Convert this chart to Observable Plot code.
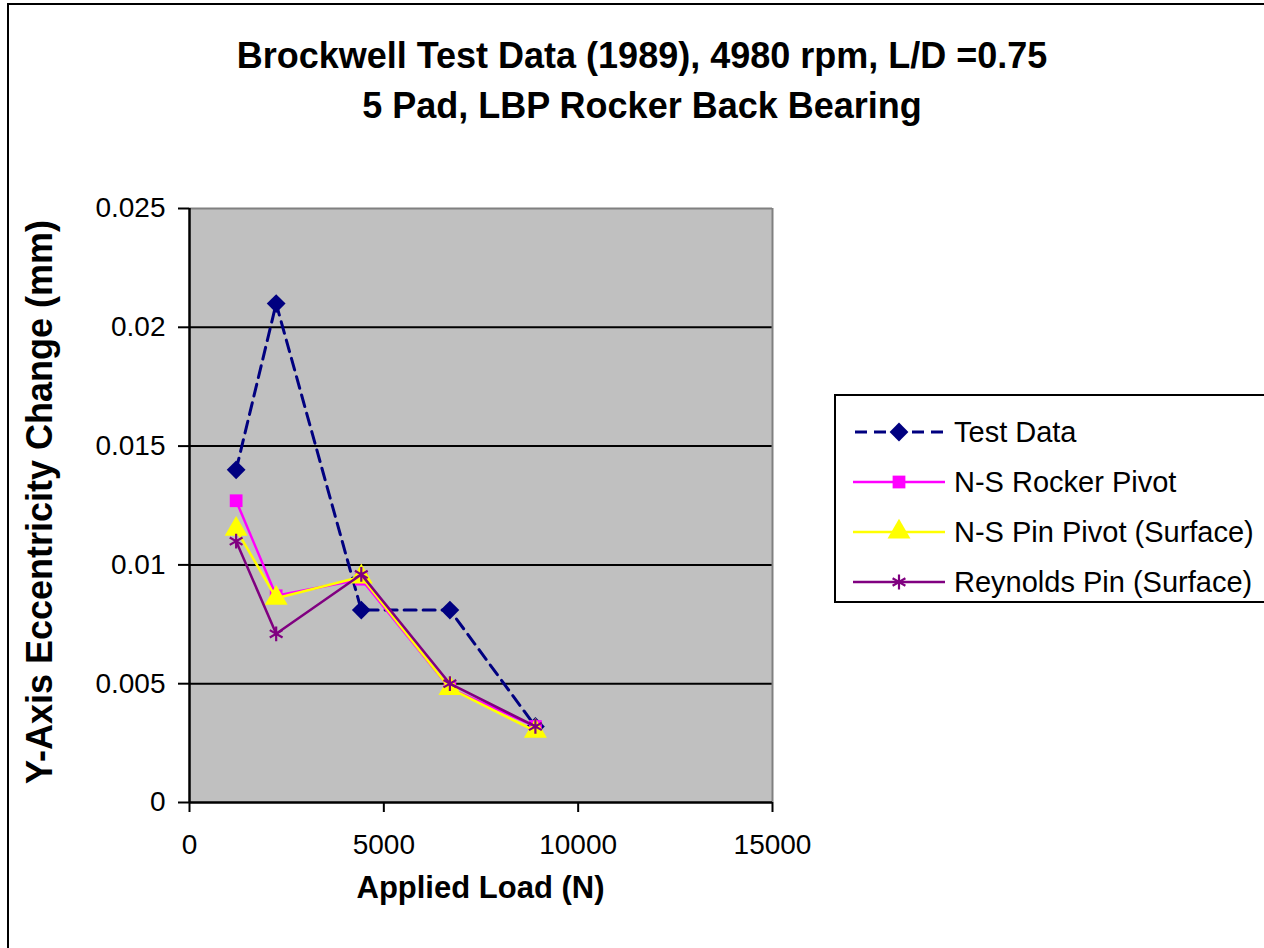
<!DOCTYPE html>
<html>
<head>
<meta charset="utf-8">
<script src="https://cdn.jsdelivr.net/npm/d3@7"></script>
<script src="https://cdn.jsdelivr.net/npm/@observablehq/plot@0.6"></script>
<style>
  html, body { margin: 0; padding: 0; background: #fff; }
  #wrap { position: relative; width: 1264px; height: 948px; overflow: hidden; font-family: "Liberation Sans", Arial, sans-serif; color: #000; }
  #border { position: absolute; left: 7px; top: 3px; width: 1400px; height: 1100px; border-top: 2.5px solid #000; border-left: 2.5px solid #000; }
  #chart { position: absolute; left: 0; top: 0; }
  .title { position: absolute; left: 0; width: 1284px; text-align: center; font-weight: bold; font-size: 36px; line-height: 1; white-space: nowrap; }
  .axtitle { position: absolute; font-weight: bold; line-height: 1; white-space: nowrap; }
  #legend { position: absolute; left: 834px; top: 394px; width: 600px; height: 209px; border: 2px solid #000; background: #fff; box-sizing: border-box; }
  .lrow { position: absolute; left: 16px; height: 40px; display: flex; align-items: center; font-size: 29px; white-space: nowrap; }
  .lrow svg { margin-right: 8px; }
</style>
</head>
<body>
<div id="wrap">
  <div id="border"></div>
  <div id="chart"></div>
  <div class="title" style="top:38px">Brockwell Test Data (1989), 4980 rpm, L/D =0.75</div>
  <div class="title" style="top:88px">5 Pad, LBP Rocker Back Bearing</div>
  <div class="axtitle" id="xtitle"></div>
  <div class="axtitle" id="ytitle"></div>
  <div id="legend"></div>
</div>
<script>
// ---- data ----
const loads = [1200, 2230, 4420, 6700, 8900];
const testData = [0.014, 0.021, 0.0081, 0.0081, 0.0032];
const rockerPivot = [0.0127, 0.0087, 0.0094, 0.0048, 0.0032];
const pinPivot = [0.0115, 0.0086, 0.0095, 0.0048, 0.0030];
const reynoldsPin = [0.011, 0.0071, 0.0096, 0.0050, 0.0032];
const seriesNames = ["Test Data", "N-S Rocker Pivot", "N-S Pin Pivot (Surface)", "Reynolds Pin (Surface)"];
const xTicks = [0, 5000, 10000, 15000];
const yTicks = [0, 0.005, 0.01, 0.015, 0.02, 0.025];
const xTitle = "Applied Load (N)";
const yTitle = "Y-Axis Eccentricity Change (mm)";

const seriesValues = [testData, rockerPivot, pinPivot, reynoldsPin];
const styles = [
  {color: "#000080", symbol: "square", rotate: 45, r: 7.5, fill: true, dash: "12,7", width: 3},
  {color: "#FF00FF", symbol: "square", rotate: 0, r: 7.2, fill: true, dash: null, width: 2.5},
  {color: "#FFFF00", symbol: "triangle", rotate: 0, r: 8.5, fill: true, dash: null, width: 2.5},
  {color: "#800080", symbol: "asterisk", rotate: 0, r: 7, fill: false, dash: null, width: 2.5}
];
const rows = [];
seriesNames.forEach((name, i) => loads.forEach((x, j) => rows.push({series: name, x, y: seriesValues[i][j]})));

const marks = [
  Plot.frame({fill: "#C0C0C0", stroke: null}),
  Plot.ruleY(yTicks.filter(d => d > 0 && d < 0.025), {stroke: "#000", strokeWidth: 2}),
  Plot.ruleY([0.025], {stroke: "#808080", strokeWidth: 2}),
  Plot.ruleX([15000], {stroke: "#808080", strokeWidth: 2}),
  Plot.axisX({ticks: xTicks, tickSize: 10, tickPadding: 22, label: null, strokeWidth: 2, tickFormat: d => String(d)}),
  Plot.axisY({ticks: yTicks, tickSize: 11, tickPadding: 13, label: null, strokeWidth: 2, tickFormat: d => String(+d.toFixed(3))}),
  Plot.ruleX([0], {stroke: "#000", strokeWidth: 2.5}),
  Plot.ruleY([0], {stroke: "#000", strokeWidth: 2.5})
];
seriesNames.forEach((name, i) => {
  const s = styles[i];
  const data = rows.filter(d => d.series === name);
  marks.push(Plot.line(data, {x: "x", y: "y", stroke: s.color, strokeWidth: s.width, strokeDasharray: s.dash || undefined}));
  marks.push(Plot.dot(data, {x: "x", y: "y", symbol: s.symbol, r: s.r, rotate: s.rotate,
    fill: s.fill ? s.color : "none", stroke: s.fill ? "none" : s.color, strokeWidth: s.fill ? 0 : 2.2}));
});

const chart = Plot.plot({
  width: 1264, height: 948,
  marginLeft: 189, marginRight: 492, marginTop: 208, marginBottom: 146,
  x: {domain: [0, 15000]},
  y: {domain: [0, 0.025]},
  style: {fontSize: "28px", fontFamily: "'Liberation Sans', Arial, sans-serif", background: "transparent", color: "#000"},
  marks
});
document.getElementById("chart").appendChild(chart);

// axis titles
const xt = document.getElementById("xtitle");
xt.textContent = xTitle;
xt.style.fontSize = "31px";
xt.style.left = "0px"; xt.style.width = (2 * 480.5) + "px"; xt.style.textAlign = "center"; xt.style.top = "872px";
const yt = document.getElementById("ytitle");
yt.textContent = yTitle;
yt.style.fontSize = "36px";
yt.style.left = "40px"; yt.style.top = "502px";
yt.style.transform = "translate(-50%, -50%) rotate(-90deg)";

// legend
const leg = document.getElementById("legend");
seriesNames.forEach((name, i) => {
  const s = styles[i];
  const row = document.createElement("div");
  row.className = "lrow";
  row.style.top = (16 + i * 50) + "px";
  const sym = {square: d3.symbolSquare, triangle: d3.symbolTriangle, asterisk: d3.symbolAsterisk}[s.symbol];
  const area = Math.PI * s.r * s.r;
  const path = d3.symbol(sym, area)();
  row.innerHTML = `<svg width="94" height="40"><line x1="1" x2="93" y1="20" y2="20" stroke="${s.color}" stroke-width="${s.width}" ${s.dash ? `stroke-dasharray="${s.dash}" stroke-dashoffset="-2"` : ""}/>`+
    `<path d="${path}" transform="translate(47,20) rotate(${s.rotate})" fill="${s.fill ? s.color : "none"}" stroke="${s.fill ? "none" : s.color}" stroke-width="2.2"/></svg><span>${name}</span>`;
  leg.appendChild(row);
});
</script>
</body>
</html>
